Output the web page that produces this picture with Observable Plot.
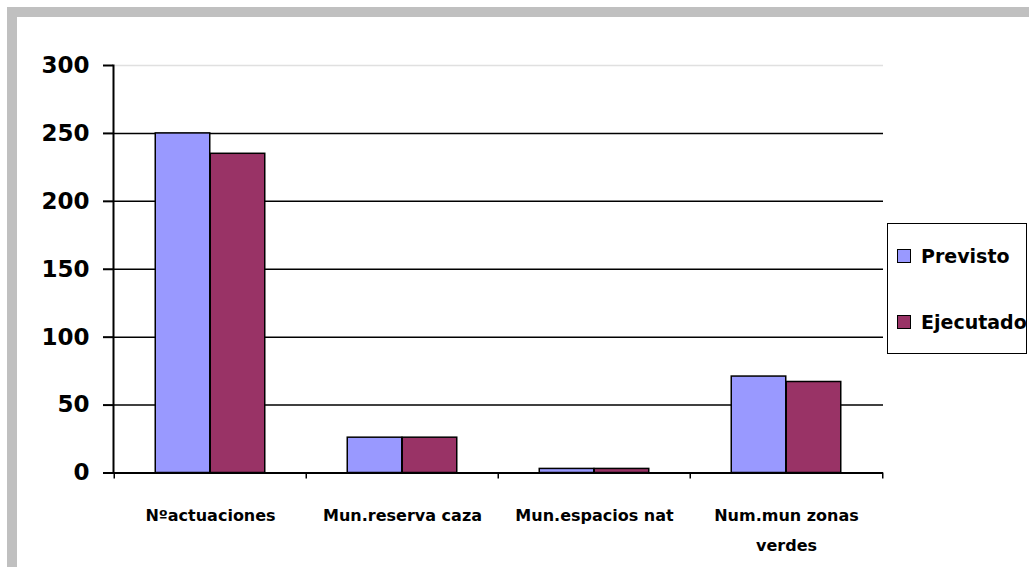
<!DOCTYPE html>
<html>
<head>
<meta charset="utf-8">
<script src="https://cdn.jsdelivr.net/npm/d3@7"></script>
<script src="https://cdn.jsdelivr.net/npm/@observablehq/plot@0.6"></script>
<style>
  html, body { margin: 0; padding: 0; background: #fff; overflow: hidden; }
  body { width: 1029px; height: 567px; position: relative; font-family: "DejaVu Sans", sans-serif; }
  #frame { position: absolute; left: 7px; top: 7px; width: 1022px; height: 560px; border-top: 10px solid #c0c0c0; border-left: 10px solid #c0c0c0; box-sizing: border-box; }
  #chart { position: absolute; left: 0; top: 0; }
  #legend { position: absolute; left: 887px; top: 223px; width: 140px; height: 131px; border: 1.5px solid #000; box-sizing: border-box; background: #fff; }
  .item { position: absolute; left: 9px; display: flex; align-items: center; font-weight: bold; font-size: 19px; }
  .sw { width: 14px; height: 14px; border: 1.5px solid #000; box-sizing: border-box; margin-right: 10px; }
</style>
</head>
<body>
<div id="frame"></div>
<div id="chart"></div>
<div id="legend"></div>
<script>
const categories = ["Nºactuaciones", "Mun.reserva caza", "Mun.espacios nat", "Num.mun zonas verdes"];
const tickLabels = ["Nºactuaciones", "Mun.reserva caza", "Mun.espacios nat", "Num.mun zonas\nverdes"];
const seriesNames = ["Previsto", "Ejecutado"];
const previsto = [250, 26, 3, 71];
const ejecutado = [235, 26, 3, 67];
const yTicks = [0, 50, 100, 150, 200, 250, 300];
const colors = ["#9999ff", "#993366"];

const rows = categories.map((c, i) => ({cat: c, previsto: previsto[i], ejecutado: ejecutado[i]}));
const labelOf = new Map(categories.map((c, i) => [c, tickLabels[i]]));

const bw = 192.5, barW = 55, inset = (bw - barW) / 2;

const chart = Plot.plot({
  width: 1029, height: 567,
  marginLeft: 113, marginRight: 146, marginTop: 65, marginBottom: 94.5,
  style: {fontFamily: "DejaVu Sans, sans-serif", background: "transparent", color: "#000"},
  x: {domain: categories, padding: 0, axis: null, label: null},
  y: {domain: [0, 300], axis: null, label: null},
  marks: [
    Plot.ruleY(yTicks.filter(v => v > 0 && v < 300), {stroke: "#000", strokeWidth: 1.5}),
    Plot.ruleY([300], {stroke: "#e0e0e0", strokeWidth: 1.5}),
    Plot.barY(rows, {x: "cat", y: "previsto", fill: colors[0], stroke: "#000", strokeWidth: 1.5, insetLeft: inset, insetRight: inset, dx: -barW / 2}),
    Plot.barY(rows, {x: "cat", y: "ejecutado", fill: colors[1], stroke: "#000", strokeWidth: 1.5, insetLeft: inset, insetRight: inset, dx: barW / 2}),
    Plot.ruleY([0], {stroke: "#000", strokeWidth: 2}),
    Plot.frame({anchor: "left", stroke: "#000", strokeWidth: 2}),
    Plot.axisY({ticks: yTicks, tickSize: 10, tickPadding: 14, fontSize: 23, fontWeight: "bold", strokeWidth: 2, strokeOpacity: 1, label: null}),
    Plot.axisX({tickSize: 6, tickFormat: () => "", dx: -bw / 2, strokeWidth: 1.5, strokeOpacity: 1, label: null}),
    Plot.axisX([categories[categories.length - 1]], {tickSize: 6, tickFormat: () => "", dx: bw / 2, strokeWidth: 1.5, strokeOpacity: 1, label: null}),
    Plot.axisX({tickSize: 0, tickPadding: 27, tickFormat: d => labelOf.get(d), fontSize: 16, fontWeight: "bold", lineHeight: 1.85, label: null})
  ]
});
document.getElementById("chart").appendChild(chart);

const legend = document.getElementById("legend");
const tops = [21, 87];
seriesNames.forEach((name, i) => {
  const item = document.createElement("div");
  item.className = "item";
  item.style.top = tops[i] + "px";
  item.innerHTML = `<div class="sw" style="background:${colors[i]}"></div><span>${name}</span>`;
  legend.appendChild(item);
});
</script>
</body>
</html>
